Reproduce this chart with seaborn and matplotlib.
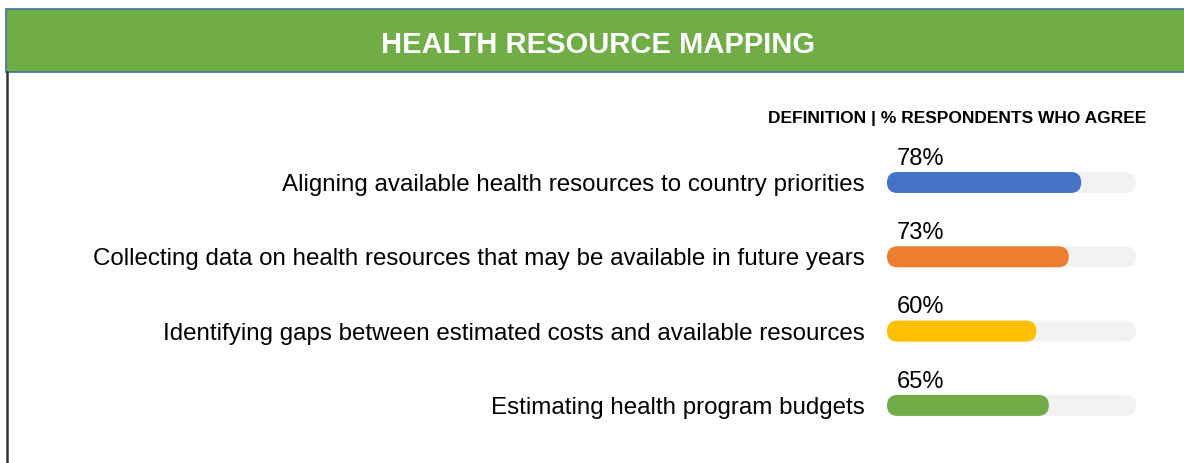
import matplotlib
matplotlib.use('Agg')
import matplotlib.pyplot as plt
import seaborn as sns
from matplotlib.patches import FancyBboxPatch, Rectangle
from matplotlib.lines import Line2D

# data
categories = ['Aligning available health resources to country priorities',
              'Collecting data on health resources that may be available in future years',
              'Identifying gaps between estimated costs and available resources',
              'Estimating health program budgets']
agree_pct = [78, 73, 60, 65]
full_pct = [100, 100, 100, 100]
bar_colors = ['#4472C4', '#ED7D31', '#FFC000', '#70AD47']
title = 'HEALTH RESOURCE MAPPING'
subtitle = 'DEFINITION | % RESPONDENTS WHO AGREE'

sns.set_theme(style='white')
plt.rcParams['font.family'] = ['Liberation Sans', 'DejaVu Sans']

W, H = 1184, 463
fig = plt.figure(figsize=(W / 100, H / 100), dpi=100)

# header band + frame
fig.patches.append(Rectangle((6 / W, 1 - 72 / H), 1.2, 63 / H, transform=fig.transFigure,
                             facecolor='#70AD47', edgecolor='#41719C', lw=1.2))
fig.lines.append(Line2D([7 / W, 7 / W], [0, 1 - 72 / H], transform=fig.transFigure,
                        color='#333333', lw=1.8))
fig.text(598 / W, 1 - 45 / H, title, color='white', fontsize=21, fontweight='bold',
         ha='center', va='center')
fig.text(1146 / W, 1 - 118.5 / H, subtitle, color='black', fontsize=12.5, fontweight='bold',
         ha='right', va='center')

# bar area
row_px = 74.3
left, right = 887, 1136
top = 182.5 - row_px / 2
ax = fig.add_axes([left / W, (H - (top + 4 * row_px)) / H, (right - left) / W, 4 * row_px / H])

bar_h = 21 / row_px
sns.barplot(x=full_pct, y=categories, color='#F2F2F2', width=bar_h, ax=ax, orient='h')
sns.barplot(x=agree_pct, y=categories, hue=categories, palette=bar_colors, width=bar_h,
            ax=ax, orient='h', legend=False, saturation=1)
ax.set_xlim(0, 100)
ax.set_ylim(3.5, -0.5)

# round the bar ends
fig.canvas.draw()
px_x = ax.transData.transform((1, 0))[0] - ax.transData.transform((0, 0))[0]
px_y = abs(ax.transData.transform((0, 1))[1] - ax.transData.transform((0, 0))[1])
r = (bar_h * px_y / 2) / px_x  # radius in x units
aspect = (bar_h / 2) / r * 0.999
for p in list(ax.patches):
    x, y, w, h = p.get_x(), p.get_y(), p.get_width(), p.get_height()
    fc = p.get_facecolor()
    p.remove()
    ax.add_patch(FancyBboxPatch((x, y), w, h, boxstyle=f'round,pad=0,rounding_size={r}',
                                mutation_aspect=aspect, facecolor=fc, edgecolor='none'))

for i, v in enumerate(agree_pct):
    ax.text(4, i - 0.32, f'{v}%', fontsize=17, ha='left', va='center', color='black')

ax.set_xlabel('')
ax.set_ylabel('')
ax.set_xticks([])
ax.tick_params(axis='y', length=0, pad=16, labelsize=17.4, labelcolor='black')
for s in ax.spines.values():
    s.set_visible(False)
ax.patch.set_alpha(0)

fig.savefig('out.png', dpi=100)
